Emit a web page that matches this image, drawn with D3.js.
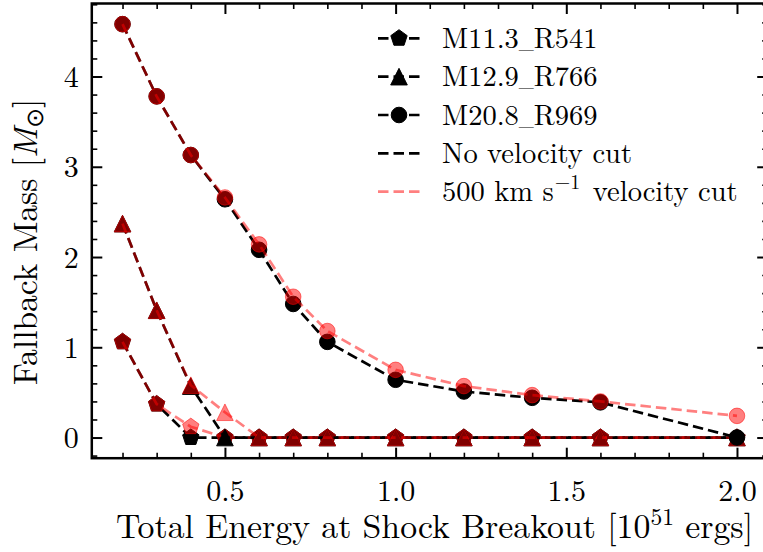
<!DOCTYPE html>
<html>
<head>
<meta charset="utf-8">
<script src="https://cdn.jsdelivr.net/npm/d3@7"></script>
<style>
  html, body { margin: 0; padding: 0; background: #fff; }
  svg { display: block; }
</style>
</head>
<body>
<svg id="chart" width="763" height="552"></svg>
<script>
// Total energy at shock breakout (10^51 ergs)
const energy = [0.2, 0.3, 0.4, 0.5, 0.6, 0.7, 0.8, 1.0, 1.2, 1.4, 1.6, 2.0];

// Fallback mass (solar masses) per progenitor model
const m113NoCut = [1.06, 0.37, 0, 0, 0, 0, 0, 0, 0, 0, 0, 0];
const m113Cut   = [1.06, 0.37, 0.12, 0, 0, 0, 0, 0, 0, 0, 0, 0];
const m129NoCut = [2.37, 1.41, 0.57, 0, 0, 0, 0, 0, 0, 0, 0, 0];
const m129Cut   = [2.37, 1.41, 0.58, 0.28, 0, 0, 0, 0, 0, 0, 0, 0];
const m208NoCut = [4.58, 3.78, 3.13, 2.64, 2.08, 1.48, 1.06, 0.64, 0.51, 0.44, 0.39, 0];
const m208Cut   = [4.58, 3.78, 3.13, 2.66, 2.14, 1.56, 1.18, 0.75, 0.57, 0.47, 0.40, 0.24];

const modelNames = ["M11.3_R541", "M12.9_R766", "M20.8_R969"];
const cutNames = ["No velocity cut", "500 km s\u207B\u00B9 velocity cut"];

const xMajorTicks = [0.5, 1.0, 1.5, 2.0];
const xTickLabels = ["0.5", "1.0", "1.5", "2.0"];
const yMajorTicks = [0, 1, 2, 3, 4];
const yTickLabels = ["0", "1", "2", "3", "4"];

const FONT = "Latin Modern Roman";

const svg = d3.select("#chart");
const W = 763, H = 552;
svg.append("rect").attr("width", W).attr("height", H).attr("fill", "#fff");

const x = d3.scaleLinear().domain([0.11, 2.09]).range([91.8, 767.7]);
const y = d3.scaleLinear().domain([-0.229, 4.809]).range([458.2, 3.5]);

// Marker shapes in the matplotlib style
const pentagon = {
  draw(ctx, size) {
    const r = Math.sqrt(size);
    for (let k = 0; k < 5; k++) {
      const a = -Math.PI / 2 + k * 2 * Math.PI / 5;
      const px = r * Math.cos(a), py = r * Math.sin(a);
      if (k === 0) ctx.moveTo(px, py); else ctx.lineTo(px, py);
    }
    ctx.closePath();
  }
};
const triangleUp = {
  draw(ctx, size) {
    const s = Math.sqrt(size);
    ctx.moveTo(0, -s);
    ctx.lineTo(-s, s);
    ctx.lineTo(s, s);
    ctx.closePath();
  }
};
const circle = {
  draw(ctx, size) {
    const r = Math.sqrt(size);
    ctx.moveTo(r, 0);
    ctx.arc(0, 0, r, 0, 2 * Math.PI);
  }
};
const shapes = [
  d3.symbol().type(pentagon).size(8.6 * 8.6)(),
  d3.symbol().type(triangleUp).size(8.3 * 8.3)(),
  d3.symbol().type(circle).size(7.8 * 7.8)()
];

const styles = [
  { color: "#000000", opacity: 1 },
  { color: "#ff0000", opacity: 0.5 }
];

const LW = 2.7;
const DASH = "10.5,5";

// Ticks (inward, on all four sides)
const xMinor = d3.range(2, 21).map(v => v / 10).filter(v => !xMajorTicks.some(m => Math.abs(m - v) < 1e-9));
const yMinor = d3.range(-1, 25).map(v => v / 5).filter(v => v >= -0.229 && v <= 4.809 && !yMajorTicks.some(m => Math.abs(m - v) < 1e-9));

const MAJ = 10.5, MIN = 5.5;
const axisG = svg.append("g");

function addAxis(gen, scale, ticks, len, width, transform, labels) {
  const g = axisG.append("g").attr("transform", transform)
    .call(gen(scale).tickValues(ticks).tickSizeInner(-len).tickSizeOuter(0)
      .tickFormat((d, i) => labels ? labels[i] : ""));
  g.attr("font-family", FONT);
  g.select(".domain").remove();
  g.selectAll(".tick line").attr("stroke", "#000").attr("stroke-width", width);
  if (labels) {
    g.selectAll(".tick text").attr("font-family", FONT).attr("fill", "#000");
  } else {
    g.selectAll(".tick text").remove();
  }
  return g;
}

// bottom
addAxis(d3.axisBottom, x, xMinor, MIN, 1.6, `translate(0,${y.range()[0]})`);
const xb = addAxis(d3.axisBottom, x, xMajorTicks, MAJ, 2, `translate(0,${y.range()[0]})`, xTickLabels);
xb.selectAll(".tick text").attr("font-size", 30).attr("y", 0).attr("dy", 43);
// top
addAxis(d3.axisTop, x, xMinor, MIN, 1.6, `translate(0,${y.range()[1]})`);
addAxis(d3.axisTop, x, xMajorTicks, MAJ, 2, `translate(0,${y.range()[1]})`);
// left
addAxis(d3.axisLeft, y, yMinor, MIN, 1.6, `translate(${x.range()[0]},0)`);
const yl = addAxis(d3.axisLeft, y, yMajorTicks, MAJ, 2, `translate(${x.range()[0]},0)`, yTickLabels);
yl.selectAll(".tick text").attr("font-size", 30).attr("x", -13).attr("dy", 10);
// right
addAxis(d3.axisRight, y, yMinor, MIN, 1.6, `translate(${x.range()[1]},0)`);
addAxis(d3.axisRight, y, yMajorTicks, MAJ, 2, `translate(${x.range()[1]},0)`);

// Series: each model drawn without cut first, then with the velocity cut on top
const seriesData = [
  [m113NoCut, m113Cut],
  [m129NoCut, m129Cut],
  [m208NoCut, m208Cut]
];

const line = d3.line().x(d => x(d[0])).y(d => y(d[1]));
const plotG = svg.append("g");

seriesData.forEach((pair, mi) => {
  pair.forEach((vals, ci) => {
    const st = styles[ci];
    const pts = energy.map((e, i) => [e, vals[i]]);
    const g = plotG.append("g");
    g.append("path").attr("d", line(pts))
      .attr("fill", "none").attr("stroke", st.color)
      .attr("stroke-opacity", st.opacity)
      .attr("stroke-width", LW).attr("stroke-dasharray", DASH);
    g.selectAll("path.mk").data(pts).join("path").attr("class", "mk")
      .attr("d", shapes[mi])
      .attr("transform", d => `translate(${x(d[0])},${y(d[1])})`)
      .attr("fill", st.color).attr("fill-opacity", st.opacity)
      .attr("stroke", st.color).attr("stroke-opacity", st.opacity)
      .attr("stroke-width", 1);
  });
});

// Spines
const frame = svg.append("g");
frame.append("rect")
  .attr("x", x.range()[0]).attr("y", y.range()[1])
  .attr("width", x.range()[1] - x.range()[0])
  .attr("height", y.range()[0] - y.range()[1])
  .attr("fill", "none").attr("stroke", "#000").attr("stroke-width", 2.5);

// Legend
const legend = svg.append("g");
const lx0 = 378, lx1 = 420, ltx = 442, rowY0 = 38.3, rowStep = 38.35;
const LFS = 28.5;
const legendRows = [
  { label: modelNames[0], shape: 0, color: "#000", op: 1 },
  { label: modelNames[1], shape: 1, color: "#000", op: 1 },
  { label: modelNames[2], shape: 2, color: "#000", op: 1 },
  { label: cutNames[0], shape: -1, color: "#000", op: 1 },
  { label: cutNames[1], shape: -1, color: "#ff0000", op: 0.5 }
];
legendRows.forEach((r, i) => {
  const cy = rowY0 + i * rowStep;
  legend.append("line").attr("x1", lx0).attr("x2", lx1).attr("y1", cy).attr("y2", cy)
    .attr("stroke", r.color).attr("stroke-opacity", r.op)
    .attr("stroke-width", LW).attr("stroke-dasharray", DASH);
  if (r.shape >= 0) {
    legend.append("path").attr("d", shapes[r.shape])
      .attr("transform", `translate(${(lx0 + lx1) / 2},${cy})`)
      .attr("fill", r.color).attr("stroke", r.color).attr("stroke-width", 1);
  }
  const t = legend.append("text").attr("x", ltx).attr("y", cy + 9.5)
    .attr("font-family", FONT).attr("font-size", LFS).attr("fill", "#000");
  if (i === 4) {
    t.append("tspan").text("500 km s");
    t.append("tspan").attr("font-size", 20).attr("dx", 1).attr("dy", -12).text("\u22121");
    t.append("tspan").attr("dx", 3).attr("dy", 12).text(" velocity cut");
  } else if (r.shape >= 0) {
    // model name with a narrow low underscore
    const [a, b] = r.label.split("_");
    t.append("tspan").text(a);
    t.append("tspan").attr("font-size", 20).text("_");
    t.append("tspan").text(b);
  } else {
    t.text(r.label);
  }
});

// Axis labels
const xl = svg.append("text").attr("x", 116).attr("y", 538)
  .attr("font-family", FONT).attr("font-size", 33.8).attr("fill", "#000");
xl.append("tspan").text("Total Energy at Shock Breakout [10");
xl.append("tspan").attr("font-size", 23.5).attr("dy", -13).text("51");
xl.append("tspan").attr("dy", 13).text(" ergs]");

const ylab = svg.append("text")
  .attr("transform", "translate(37,385) rotate(-90)")
  .attr("font-family", FONT).attr("font-size", 33.5).attr("fill", "#000");
ylab.append("tspan").text("Fallback Mass [");
ylab.append("tspan").attr("font-style", "italic").text("M");
ylab.append("tspan").attr("font-size", 23.5).attr("dy", 6).text("\u2299");
ylab.append("tspan").attr("dy", -6).text("]");
</script>
</body>
</html>
